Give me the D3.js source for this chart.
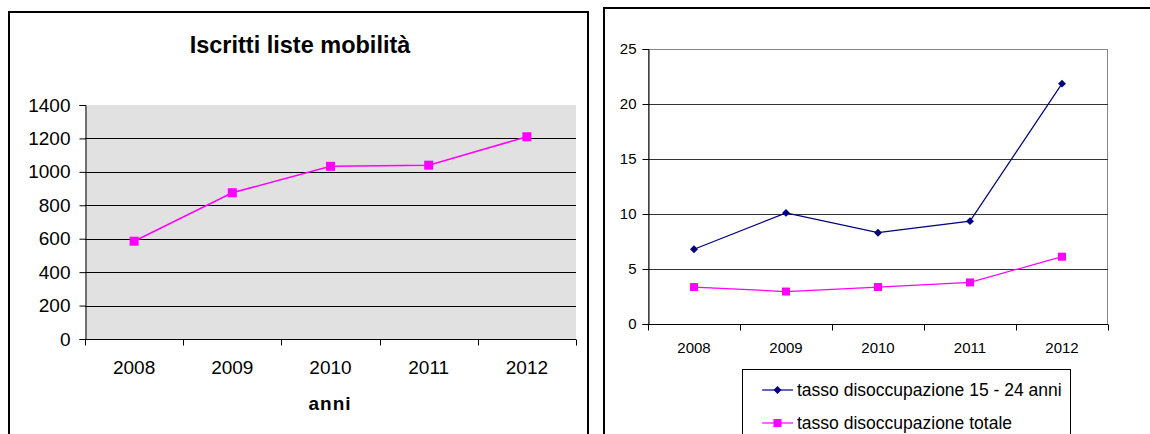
<!DOCTYPE html>
<html>
<head>
<meta charset="utf-8">
<script src="https://cdn.jsdelivr.net/npm/d3@7/dist/d3.min.js"></script>
<style>
  html, body { margin: 0; padding: 0; background: #ffffff; }
  svg { display: block; }
  text { font-family: "Liberation Sans", Arial, sans-serif; fill: #000; }
</style>
</head>
<body>
<svg id="chart" width="1150" height="434"></svg>
<script>
// ---- Data ----
const years = ["2008", "2009", "2010", "2011", "2012"];
const iscrittiMobilita = [585, 875, 1033, 1040, 1210];
const leftTicks = [0, 200, 400, 600, 800, 1000, 1200, 1400];
const leftTitle = "Iscritti liste mobilità";
const leftXTitle = "anni";

const disoccGiovani = [6.8, 10.1, 8.3, 9.35, 21.85];
const disoccTotale = [3.36, 2.95, 3.36, 3.78, 6.12];
const rightTicks = [0, 5, 10, 15, 20, 25];
const seriesNames = ["tasso disoccupazione 15 - 24 anni", "tasso disoccupazione totale"];

const svg = d3.select("#chart");

// ================= LEFT CHART =================
const L = svg.append("g");
L.append("rect").attr("x", 9).attr("y", 12).attr("width", 579).attr("height", 440)
  .attr("fill", "#fff").attr("stroke", "#000").attr("stroke-width", 2);

L.append("text").attr("x", 300).attr("y", 53).attr("text-anchor", "middle")
  .attr("font-weight", "bold").attr("font-size", 23.5).text(leftTitle);

const lx = d3.scaleBand().domain(years).range([85, 576]).paddingInner(0).paddingOuter(0);
const ly = d3.scaleLinear().domain([0, 1400]).range([339, 105]);

L.append("rect").attr("x", 85).attr("y", ly(1400)).attr("width", 491)
  .attr("height", ly(0) - ly(1400)).attr("fill", "#e1e1e1");

L.append("g").selectAll("line").data(leftTicks.filter(t => t > 0 && t < 1400)).join("line")
  .attr("x1", 85).attr("x2", 576).attr("y1", d => Math.round(ly(d)) + 0.5).attr("y2", d => Math.round(ly(d)) + 0.5)
  .attr("stroke", "#000").attr("stroke-width", 1);

// y axis
const lyAxis = d3.axisLeft(ly).tickValues(leftTicks).tickSize(6).tickPadding(9).tickFormat(d3.format("d"));
const lyG = L.append("g").attr("transform", "translate(85.5,0)").call(lyAxis);
lyG.select(".domain").attr("stroke", "#000");
lyG.selectAll("line").attr("stroke", "#000");
lyG.selectAll("text").attr("font-size", 19).attr("font-family", "Liberation Sans, Arial, sans-serif").attr("fill", "#000");

// x axis with ticks at category boundaries
const lxG = L.append("g").attr("transform", "translate(0,339.5)");
lxG.append("line").attr("x1", 85).attr("x2", 576).attr("stroke", "#000");
const lBounds = years.map(y => lx(y)).concat([lx(years[years.length - 1]) + lx.bandwidth()]);
lxG.selectAll("line.tk").data(lBounds).join("line").attr("class", "tk")
  .attr("x1", d => Math.round(d) + 0.5).attr("x2", d => Math.round(d) + 0.5).attr("y1", 0).attr("y2", 6).attr("stroke", "#000");
lxG.selectAll("text").data(years).join("text")
  .attr("x", d => lx(d) + lx.bandwidth() / 2).attr("y", 34).attr("text-anchor", "middle")
  .attr("font-size", 19).text(d => d);

L.append("text").attr("x", 330).attr("y", 410).attr("text-anchor", "middle")
  .attr("font-weight", "bold").attr("font-size", 19).attr("letter-spacing", 1).text(leftXTitle);

const lLine = d3.line().x((d, i) => lx(years[i]) + lx.bandwidth() / 2).y(d => ly(d));
L.append("path").datum(iscrittiMobilita).attr("d", lLine).attr("fill", "none")
  .attr("stroke", "#ff00ff").attr("stroke-width", 1.5);
L.selectAll("rect.mk").data(iscrittiMobilita).join("rect").attr("class", "mk")
  .attr("x", (d, i) => lx(years[i]) + lx.bandwidth() / 2 - 4.5).attr("y", d => ly(d) - 4.5)
  .attr("width", 9).attr("height", 9).attr("fill", "#ff00ff");

// ================= RIGHT CHART =================
const R = svg.append("g");
R.append("rect").attr("x", 604).attr("y", 8).attr("width", 600).attr("height", 460)
  .attr("fill", "#fff").attr("stroke", "#000").attr("stroke-width", 2);

const rx = d3.scaleBand().domain(years).range([648, 1108]).paddingInner(0).paddingOuter(0);
const ry = d3.scaleLinear().domain([0, 25]).range([324, 49]);

// plot border (top/right gray)
R.append("rect").attr("x", 648.5).attr("y", ry(25) + 0.5).attr("width", 459).attr("height", ry(0) - ry(25))
  .attr("fill", "none").attr("stroke", "#888").attr("stroke-width", 1);

R.append("g").selectAll("line").data(rightTicks.filter(t => t > 0 && t < 25)).join("line")
  .attr("x1", 648).attr("x2", 1108).attr("y1", d => Math.round(ry(d)) + 0.5).attr("y2", d => Math.round(ry(d)) + 0.5)
  .attr("stroke", "#333").attr("stroke-width", 1);

const ryAxis = d3.axisLeft(ry).tickValues(rightTicks).tickSize(6).tickPadding(6).tickFormat(d3.format("d"));
const ryG = R.append("g").attr("transform", "translate(648.5,0)").call(ryAxis);
ryG.select(".domain").attr("stroke", "#000");
ryG.selectAll("line").attr("stroke", "#000");
ryG.selectAll("text").attr("font-size", 15).attr("font-family", "Liberation Sans, Arial, sans-serif").attr("fill", "#000");

const rxG = R.append("g").attr("transform", "translate(0,324.5)");
rxG.append("line").attr("x1", 648).attr("x2", 1108).attr("stroke", "#000");
const rBounds = years.map(y => rx(y)).concat([rx(years[years.length - 1]) + rx.bandwidth()]);
rxG.selectAll("line.tk").data(rBounds).join("line").attr("class", "tk")
  .attr("x1", d => Math.round(d) + 0.5).attr("x2", d => Math.round(d) + 0.5).attr("y1", 0).attr("y2", 6).attr("stroke", "#000");
rxG.selectAll("text").data(years).join("text")
  .attr("x", d => rx(d) + rx.bandwidth() / 2).attr("y", 28).attr("text-anchor", "middle")
  .attr("font-size", 15).text(d => d);

const rLine = d3.line().x((d, i) => rx(years[i]) + rx.bandwidth() / 2).y(d => ry(d));
R.append("path").datum(disoccGiovani).attr("d", rLine).attr("fill", "none")
  .attr("stroke", "#000080").attr("stroke-width", 1.2);
R.append("path").datum(disoccTotale).attr("d", rLine).attr("fill", "none")
  .attr("stroke", "#ff00ff").attr("stroke-width", 1.2);

const diamond = d3.symbol().type(d3.symbolDiamond2).size(40);
R.selectAll("path.dm").data(disoccGiovani).join("path").attr("class", "dm")
  .attr("transform", (d, i) => `translate(${rx(years[i]) + rx.bandwidth() / 2},${ry(d)})`)
  .attr("d", diamond).attr("fill", "#000080");
R.selectAll("rect.sq").data(disoccTotale).join("rect").attr("class", "sq")
  .attr("x", (d, i) => rx(years[i]) + rx.bandwidth() / 2 - 4).attr("y", d => ry(d) - 4)
  .attr("width", 8).attr("height", 8).attr("fill", "#ff00ff");

// legend
const lg = R.append("g");
lg.append("rect").attr("x", 742.5).attr("y", 369.5).attr("width", 328).attr("height", 90)
  .attr("fill", "#fff").attr("stroke", "#000").attr("stroke-width", 1);
const lgRows = lg.selectAll("g.row").data(seriesNames).join("g").attr("class", "row")
  .attr("transform", (d, i) => `translate(0,${390 + i * 33})`);
lgRows.append("line").attr("x1", 762).attr("x2", 793).attr("y1", 0).attr("y2", 0)
  .attr("stroke", (d, i) => i === 0 ? "#000080" : "#ff00ff").attr("stroke-width", 1.2);
lgRows.each(function (d, i) {
  const g = d3.select(this);
  if (i === 0) {
    g.append("path").attr("transform", "translate(777.5,0)").attr("d", diamond).attr("fill", "#000080");
  } else {
    g.append("rect").attr("x", 773.5).attr("y", -4).attr("width", 8).attr("height", 8).attr("fill", "#ff00ff");
  }
});
lgRows.append("text").attr("x", 797).attr("y", 6).attr("font-size", 17.5).text(d => d);
</script>
</body>
</html>
